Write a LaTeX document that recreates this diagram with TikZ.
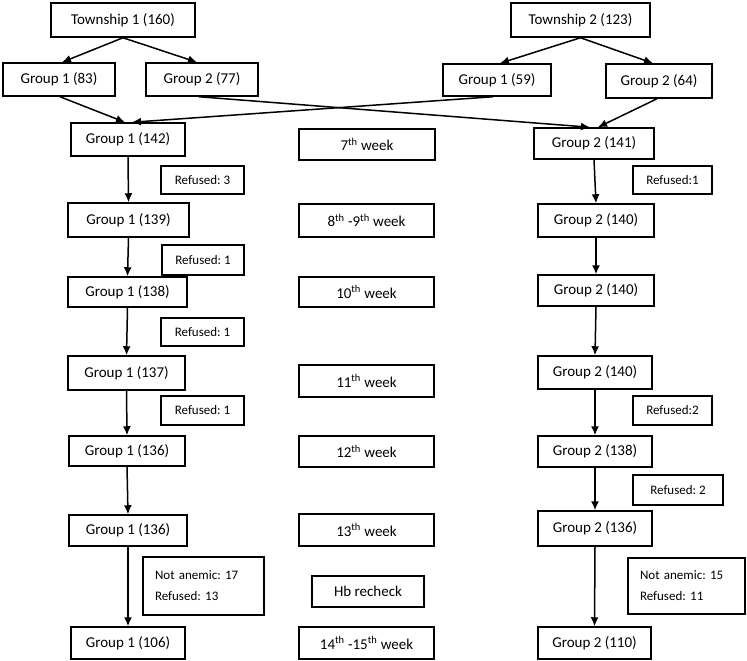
\documentclass[tikz,border=0pt]{standalone}
\usepackage{fontspec}
\setmainfont{Carlito}
\usetikzlibrary{arrows.meta,calc}
\tikzset{
  box/.style={draw, line width=1.5pt, inner sep=0pt, font=\fontsize{15}{17}\selectfont},
  smallbox/.style={box, font=\fontsize{13}{15}\selectfont},
  notebox/.style={box, font=\fontsize{13}{21}\selectfont, align=left},
  arr/.style={line width=1.5pt, -{Latex[length=9pt,width=8pt]}}
}
\newcommand{\bx}[6][box]{\node[#1, minimum width=#4pt, minimum height=#5pt] (#2) at (#3) {#6};}
\newcommand{\sth}[1]{\textsuperscript{#1}}
\frenchspacing
\begin{document}
\begin{tikzpicture}[x=1pt,y=-1pt]
\useasboundingbox (0,0) rectangle (747,661);
% top level
\bx{T1}{123,20}{144}{34}{Township 1 (160)}
\bx{A1}{59,79.5}{112}{33}{Group 1 (83)}
\bx{A2}{202,79.5}{112}{33}{Group 2 (77)}
\bx{T2}{580.5,20}{139}{34}{Township 2 (123)}
\bx{B1}{497,80}{108}{32}{Group 1 (59)}
\bx{B2}{659,81}{106}{34}{Group 2 (64)}
% left column
\bx{L1}{128,139.5}{114}{33}{Group 1 (142)}
\bx{L2}{128.5,220}{121}{34}{Group 1 (139)}
\bx{L3}{127.5,292}{119}{30}{Group 1 (138)}
\bx{L4}{126.5,373}{117}{34}{Group 1 (137)}
\bx{L5}{127,451}{116}{30}{Group 1 (136)}
\bx{L6}{128,530.5}{118}{31}{Group 1 (136)}
\bx{L7}{128,643}{114}{32}{Group 1 (106)}
\bx[smallbox]{QL1}{202.5,180}{83}{28}{Refused: 3}
\bx[smallbox]{QL2}{203,260}{82}{30}{Refused: 1}
\bx[smallbox]{QL3}{202.5,332}{83}{28}{Refused: 1}
\bx[smallbox]{QL4}{202.5,410.5}{83}{29}{Refused: 1}
\node[notebox, minimum width=121pt, minimum height=58pt, text width=97pt] (NL) at (203.5,586) {Not anemic: 17\\Refused: 13};
% middle column
\bx{W1}{367,144.5}{136}{31}{7\sth{th} week}
\bx{W2}{366.5,220.5}{135}{33}{8\sth{th} -9\sth{th} week}
\bx{W3}{366.5,292}{135}{30}{10\sth{th} week}
\bx{W4}{366.5,381}{135}{32}{11\sth{th} week}
\bx{W5}{366.5,451.5}{135}{31}{12\sth{th} week}
\bx{W6}{366.5,530}{135}{32}{13\sth{th} week}
\bx{HB}{368,591.5}{112}{31}{Hb recheck}
\bx{W7}{366.5,643}{135}{32}{14\sth{th} -15\sth{th} week}
% right column
\bx{R1}{594,143.5}{120}{31}{Group 2 (141)}
\bx{R2}{596,220.5}{116}{33}{Group 2 (140)}
\bx{R3}{596,290.5}{116}{31}{Group 2 (140)}
\bx{R4}{595,372.5}{114}{33}{Group 2 (140)}
\bx{R5}{595,451.5}{114}{31}{Group 2 (138)}
\bx{R6}{595,528.5}{114}{35}{Group 2 (136)}
\bx{R7}{594.5,643}{113}{32}{Group 2 (110)}
\bx[smallbox]{QR1}{672.5,180}{79}{28}{Refused:1}
\bx[smallbox]{QR4}{672.5,410.5}{79}{29}{Refused:2}
\bx[smallbox]{QR5}{678,490}{90}{30}{Refused: 2}
\node[notebox, minimum width=117pt, minimum height=56pt, text width=93pt] (NR) at (686.5,586) {Not anemic: 15\\Refused: 11};
% arrows top
\draw[arr] (T1.south) -- ($(A1.north)+(3,0)$);
\draw[arr] (T1.south) -- ($(A2.north)+(-5,0)$);
\draw[arr] (T2.south) -- ($(B1.north)+(3,0)$);
\draw[arr] (T2.south) -- ($(B2.north)+(-6,0)$);
\draw[arr] ($(A1.south)+(1,0)$) -- ($(L1.north)+(-3,0)$);
\draw[arr] ($(B1.south)+(-4,0)$) -- ($(L1.north)+(4,0)$);
\draw[arr] ($(A2.south)+(-3,0)$) -- ($(R1.north)+(-4,0)$);
\draw[arr] ($(B2.south)+(-2,0)$) -- ($(R1.north)+(4,0)$);
% left column arrows
\draw[arr] (L1.south) -- (L2.north);
\draw[arr] (L2.south) -- (L3.north);
\draw[arr] (L3.south) -- (L4.north);
\draw[arr] (L4.south) -- (L5.north);
\draw[arr] (L5.south) -- (L6.north);
\draw[arr] (L6.south) -- (L7.north);
% right column arrows
\draw[arr] (R1.south) -- (R2.north);
\draw[arr] (R2.south) -- (R3.north);
\draw[arr] (R3.south) -- (R4.north);
\draw[arr] (R4.south) -- (R5.north);
\draw[arr] (R5.south) -- (R6.north);
\draw[arr] (R6.south) -- (R7.north);
\end{tikzpicture}
\end{document}
